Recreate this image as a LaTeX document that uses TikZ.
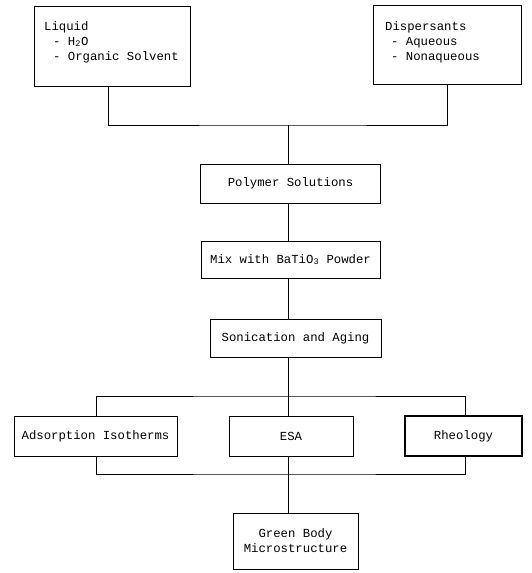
\documentclass[tikz,border=0pt]{standalone}
\usepackage{fontspec}
\setmainfont{Liberation Mono}
\begin{document}
\begin{tikzpicture}[x=1pt,y=-1pt,
  box/.style={draw,line width=1pt,rectangle,inner sep=0pt,font=\fontsize{12.3}{15}\selectfont},
  lbl/.style={inner sep=0pt,align=left,anchor=north west,font=\fontsize{12.3}{15}\selectfont},
  conn/.style={line width=1pt}]
\useasboundingbox (0,0) rectangle (531,573);
% top boxes
\node[box,minimum width=156pt,minimum height=80pt] (liq) at (112,46) {};
\node[lbl] (liqt) at (44,21) {Liquid\\\hspace*{9pt}- H\textsubscript{2}O\\\hspace*{9pt}- Organic Solvent};
\node[box,minimum width=148pt,minimum height=79pt] (dis) at (447,45) {};
\node[lbl] (dist) at (385,21) {Dispersants\\\hspace*{6pt}- Aqueous\\\hspace*{6pt}- Nonaqueous};
% chain
\node[box,minimum width=180pt,minimum height=39pt] (poly) at (290.5,183.5) {Polymer Solutions};
\node[box,minimum width=179pt,minimum height=37pt] (mix) at (290.5,259.5) {Mix with BaTiO\textsubscript{3} Powder};
\node[box,minimum width=171pt,minimum height=38pt] (son) at (295.5,338) {Sonication and Aging};
% three
\node[box,minimum width=163pt,minimum height=40pt] (ads) at (95.5,436) {Adsorption Isotherms};
\node[box,minimum width=124pt,minimum height=40pt] (esa) at (291,436) {ESA};
\node[box,line width=1.8pt,minimum width=117pt,minimum height=40pt] (rhe) at (463.5,436) {Rheology};
\node[box,minimum width=125pt,minimum height=56pt,align=center] (gb) at (295.5,541) {Green Body\\Microstructure};
% coordinates
\coordinate (j1) at (288,125);
\coordinate (j2) at (288,396);
\coordinate (j3) at (288,474);
% connectors
\draw[conn] (liq.south -| 108,0) |- (j1) -| (dis.south -| 447,0);
\draw[conn] (j1) -- (poly.north -| j1);
\draw[conn] (poly.south -| j1) -- (mix.north -| j1);
\draw[conn] (mix.south -| j1) -- (son.north -| j1);
\draw[conn] (son.south -| j1) -- (esa.north -| j1);
\draw[conn] (ads.north -| 96,0) |- (j2) -| (rhe.north -| 465,0);
\draw[conn] (ads.south -| 96,0) |- (j3) -| (rhe.south -| 465,0);
\draw[conn] (esa.south -| j1) -- (gb.north -| j1);
\end{tikzpicture}
\end{document}
